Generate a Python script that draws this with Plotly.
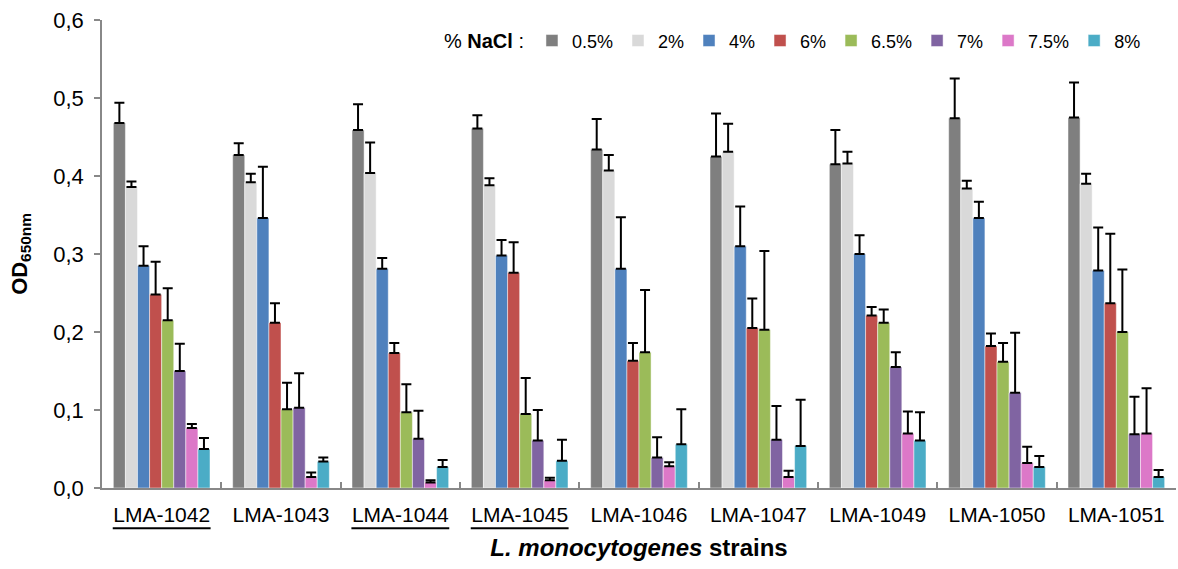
import plotly.graph_objects as go

strains = ["LMA-1042", "LMA-1043", "LMA-1044", "LMA-1045", "LMA-1046",
           "LMA-1047", "LMA-1049", "LMA-1050", "LMA-1051"]
underlined = ["LMA-1042", "LMA-1044", "LMA-1045"]
series_names = ["0.5%", "2%", "4%", "6%", "6.5%", "7%", "7.5%", "8%"]
colors = ["#7f7f7f", "#d9d9d9", "#4f81bd", "#c0504d", "#9bbb59", "#8064a2", "#dc78c8", "#4bacc6"]

od_05 = [0.468, 0.427, 0.459, 0.461, 0.434, 0.425, 0.415, 0.474, 0.475]
od_2 = [0.386, 0.392, 0.404, 0.388, 0.407, 0.431, 0.416, 0.384, 0.390]
od_4 = [0.285, 0.346, 0.281, 0.298, 0.281, 0.310, 0.300, 0.346, 0.279]
od_6 = [0.248, 0.212, 0.173, 0.276, 0.163, 0.205, 0.221, 0.182, 0.237]
od_65 = [0.215, 0.101, 0.097, 0.095, 0.174, 0.203, 0.212, 0.162, 0.200]
od_7 = [0.150, 0.103, 0.063, 0.061, 0.039, 0.062, 0.155, 0.122, 0.069]
od_75 = [0.077, 0.014, 0.007, 0.010, 0.028, 0.014, 0.070, 0.032, 0.070]
od_8 = [0.050, 0.034, 0.027, 0.035, 0.056, 0.054, 0.061, 0.027, 0.014]

sd_05 = [0.026, 0.015, 0.033, 0.017, 0.039, 0.055, 0.044, 0.051, 0.045]
sd_2 = [0.007, 0.011, 0.039, 0.009, 0.020, 0.036, 0.015, 0.010, 0.013]
sd_4 = [0.025, 0.066, 0.014, 0.020, 0.066, 0.051, 0.024, 0.021, 0.055]
sd_6 = [0.042, 0.025, 0.013, 0.039, 0.023, 0.038, 0.011, 0.016, 0.089]
sd_65 = [0.041, 0.034, 0.036, 0.046, 0.080, 0.101, 0.017, 0.024, 0.080]
sd_7 = [0.035, 0.044, 0.036, 0.039, 0.026, 0.043, 0.019, 0.077, 0.048]
sd_75 = [0.005, 0.006, 0.003, 0.003, 0.005, 0.008, 0.028, 0.021, 0.058]
sd_8 = [0.014, 0.005, 0.009, 0.027, 0.045, 0.059, 0.036, 0.014, 0.009]

values = [od_05, od_2, od_4, od_6, od_65, od_7, od_75, od_8]
errors = [sd_05, sd_2, sd_4, sd_6, sd_65, sd_7, sd_75, sd_8]

fig = go.Figure()
for name, col, v, e in zip(series_names, colors, values, errors):
    fig.add_trace(go.Bar(
        x=strains, y=v, name=name,
        marker=dict(color=col, line=dict(color="rgba(255,255,255,0.6)", width=0.8)),
        error_y=dict(type="data", array=e, arrayminus=[0] * len(e), symmetric=False,
                     color="black", thickness=2, width=5),
    ))

# underline beneath selected strain labels
for s in underlined:
    i = strains.index(s)
    fig.add_shape(type="line", xref="x", yref="paper",
                  x0=i - 0.41, x1=i + 0.41, y0=-0.086, y1=-0.086,
                  line=dict(color="black", width=2))

FONT = "Liberation Sans, Arial, sans-serif"
fig.update_layout(
    width=1178, height=569,
    barmode="group", bargap=0.19, bargroupgap=0,
    plot_bgcolor="white", paper_bgcolor="white",
    margin=dict(l=102, r=2, t=20, b=81),
    separators=",.",
    font=dict(family=FONT, size=20, color="black"),
    legend=dict(
        orientation="h", x=0.972, xanchor="right", y=0.995, yanchor="top",
        title=dict(text="% <b>NaCl</b> :", font=dict(size=20)),
        font=dict(size=18), itemwidth=30, traceorder="normal",
        bgcolor="rgba(0,0,0,0)", tracegroupgap=0,
    ),
    xaxis=dict(
        tickmode="array", tickvals=strains, ticktext=strains,
        showline=True, linecolor="#888888", linewidth=1.5,
        ticks="inside", tickson="boundaries", ticklen=6, tickcolor="#888888", tickwidth=1.5,
        tickfont=dict(size=21), ticklabelstandoff=7,
        title=dict(text="<b><i>L. monocytogenes</i> strains</b>", font=dict(size=24), standoff=14),
        showgrid=False, mirror=False,
    ),
    yaxis=dict(
        range=[0, 0.6], dtick=0.1, tickformat=".1f",
        showline=True, linecolor="#888888", linewidth=1.5,
        ticks="outside", ticklen=6, tickcolor="#888888", tickwidth=1.5,
        tickfont=dict(size=22), ticklabelstandoff=6,
        title=dict(text="<b>OD<sub>650nm</sub></b>", font=dict(size=22), standoff=20),
        showgrid=False, zeroline=False,
    ),
)

fig.write_html("out.html")
